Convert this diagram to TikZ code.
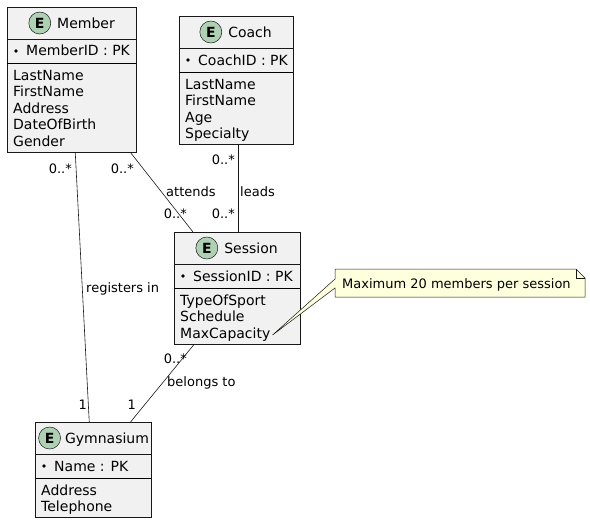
\documentclass[tikz,border=0pt]{standalone}
\usepackage{fontspec}
\setmainfont{DejaVu Sans}
\usetikzlibrary{positioning,calc}
\definecolor{boxfill}{HTML}{F1F1F1}
\definecolor{boxline}{HTML}{181818}
\definecolor{ecirc}{HTML}{ADD1B2}
\definecolor{notefill}{HTML}{FEFFDD}
\begin{document}
\begin{tikzpicture}[x=1pt,y=-1pt,
  entity/.style={draw=boxline,fill=boxfill,line width=0.5pt,anchor=north west,inner sep=0pt},
  etitle/.style={inner sep=0pt,text height=10.2pt,text depth=0pt,font=\fontsize{14}{16}\selectfont},
  ecircle/.style={circle,draw=boxline,fill=ecirc,line width=0.5pt,minimum size=22pt,inner sep=0pt,font=\fontsize{14}{16}\selectfont\bfseries},
  attr/.style={inner sep=0pt,anchor=base west,font=\fontsize{14}{16}\selectfont},
  pkdot/.style={circle,fill=black,inner sep=0pt,minimum size=3.6pt},
  card/.style={inner sep=0pt,font=\fontsize{13}{15}\selectfont},
  link/.style={draw=boxline,line width=0.6pt},
  sep/.style={draw=boxline,line width=0.4pt},
  pksep/.style={draw=black,line width=0.9pt}]
  \useasboundingbox[fill=white] (0,0) rectangle (590,522);

  % Member
  \node[entity,minimum width=129pt,minimum height=145pt] (member) at (7,7) {};
  \draw[sep] (7,39) -- (136,39);
  \draw[pksep] (7,63) -- (136,63);
  \node[etitle] (member-t) at (86,23) {Member};
  \node[ecircle,left=6pt of member-t] (member-e) {E};
  \node[pkdot] (member-d) at (16,51) {};
  \node[attr] (member-pk) at (26,56) {MemberID : PK};
  \foreach \a [count=\i] in {LastName,FirstName,Address,DateOfBirth,Gender}
    \node[attr] (member-a\i) at (13,{80+16.5*(\i-1)}) {\a};

  % Coach
  \node[entity,minimum width=114pt,minimum height=128pt] (coach) at (179,16) {};
  \draw[sep] (179,48) -- (293,48);
  \draw[pksep] (179,72) -- (293,72);
  \node[etitle] (coach-t) at (250,32) {Coach};
  \node[ecircle,left=6pt of coach-t] (coach-e) {E};
  \node[pkdot] (coach-d) at (188,60) {};
  \node[attr] (coach-pk) at (198,65) {CoachID : PK};
  \foreach \a [count=\i] in {LastName,FirstName,Age,Specialty}
    \node[attr] (coach-a\i) at (185,{89+16.5*(\i-1)}) {\a};

  % Session
  \node[entity,minimum width=126pt,minimum height=112pt] (session) at (174,232) {};
  \draw[sep] (174,264) -- (300,264);
  \draw[pksep] (174,288) -- (300,288);
  \node[etitle] (session-t) at (251,248) {Session};
  \node[ecircle,left=6pt of session-t] (session-e) {E};
  \node[pkdot] (session-d) at (183,276) {};
  \node[attr] (session-pk) at (193,281) {SessionID : PK};
  \foreach \a [count=\i] in {TypeOfSport,Schedule,MaxCapacity}
    \node[attr] (session-a\i) at (180,{305+16.5*(\i-1)}) {\a};

  % Gymnasium
  \node[entity,minimum width=116pt,minimum height=95pt] (gym) at (35,422) {};
  \draw[sep] (35,454) -- (151,454);
  \draw[pksep] (35,478) -- (151,478);
  \node[etitle] (gym-t) at (107,438) {Gymnasium};
  \node[ecircle,left=4pt of gym-t] (gym-e) {E};
  \node[pkdot] (gym-d) at (44,466) {};
  \node[attr] (gym-pk) at (54,471) {Name : PK};
  \foreach \a [count=\i] in {Address,Telephone}
    \node[attr] (gym-a\i) at (41,{495+16.5*(\i-1)}) {\a};

  % relations
  \draw[link] ($(member.south)+(3.5,0)$) -- ($(gym.north)+(-4,0)$);
  \draw[link] ($(member.south east)+(-6,0)$) -- ($(session.north west)+(19,0)$);
  \draw[link] ($(coach.south)+(2,0)$) -- ($(session.north)+(1,0)$);
  \draw[link] ($(session.south west)+(20,0)$) -- ($(gym.north east)+(-21,0)$);

  \node[card,anchor=base east] (c1) at (72,173) {0..*};
  \node[card,anchor=base east] (c2) at (87,409) {1};
  \node[card,anchor=base west] (l1) at (86,292) {registers in};
  \node[card,anchor=base east] (c3) at (134,173) {0..*};
  \node[card,anchor=base east] (c4) at (187,218) {0..*};
  \node[card,anchor=base west] (l2) at (166,196) {attends};
  \node[card,anchor=base east] (c5) at (235,164) {0..*};
  \node[card,anchor=base east] (c6) at (235,218) {0..*};
  \node[card,anchor=base west] (l3) at (240,196) {leads};
  \node[card,anchor=base east] (c7) at (187,363) {0..*};
  \node[card,anchor=base east] (c8) at (136,409) {1};
  \node[card,anchor=base west] (l4) at (167,386) {belongs to};

  % note
  \coordinate (tip) at ($(session-a3.base east)+(2,-3)$);
  \draw[draw=boxline,fill=notefill,line width=0.5pt] (335,269) -- (576,269) -- (585,278)
    -- (585,297) -- (335,297) -- (335,288) -- (tip) -- (335,279) -- cycle;
  \draw[draw=boxline,line width=0.5pt] (576,269) -- (576,278) -- (585,278);
  \node[card,anchor=base west] (note) at (342,288) {Maximum 20 members per session};
\end{tikzpicture}
\end{document}
